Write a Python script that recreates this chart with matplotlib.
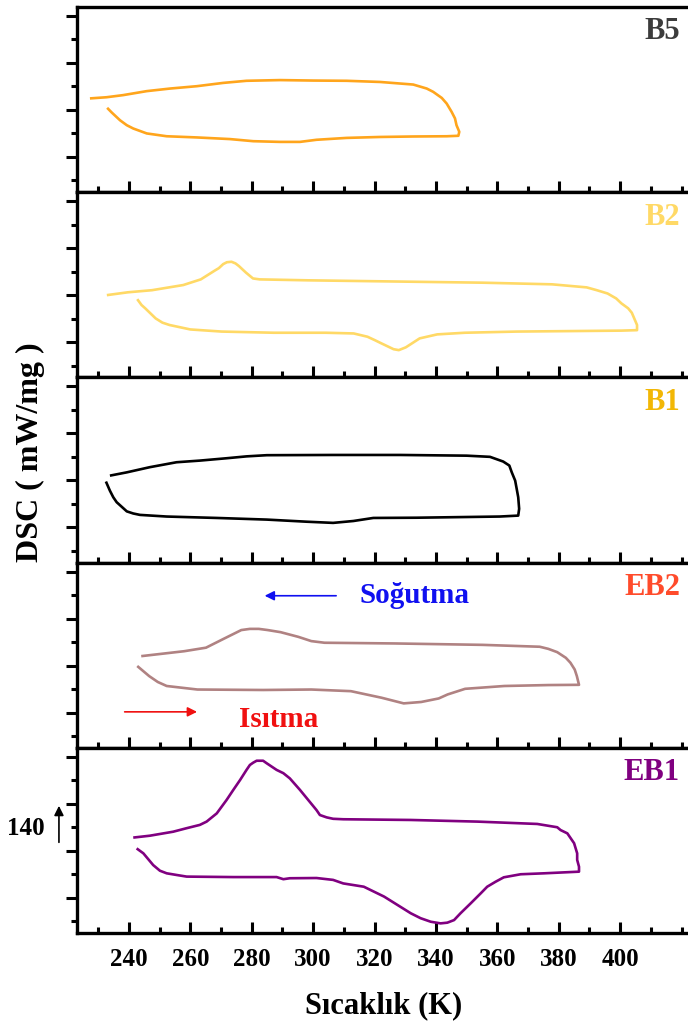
import matplotlib.pyplot as plt
from matplotlib.ticker import MultipleLocator

plt.rcParams['font.family'] = ['Liberation Serif', 'DejaVu Serif']
plt.rcParams['font.weight'] = 'bold'

# Panel names (top to bottom), curve colours and label colours
names = ["B5", "B2", "B1", "EB2", "EB1"]
line_colors = ["#FFA51C", "#FFD966", "#000000", "#B08282", "#800080"]
label_colors = ["#3C3C3C", "#FFD966", "#F2B705", "#FF4B2B", "#800080"]

# Heating branch (left -> right), then cooling branch (right -> left)
b5_heat_T = [232.9, 234.4, 237.1, 239.3, 241.4, 245.8, 252.3, 262.1, 272.9, 280.5, 289.2, 295.7, 301.1, 310.9, 321.8, 332.6, 343.5, 347.3]
b5_heat_v = [2.09, 1.89, 1.56, 1.35, 1.21, 1.00, 0.88, 0.83, 0.76, 0.67, 0.64, 0.64, 0.73, 0.81, 0.85, 0.87, 0.88, 0.90]
b5_cool_T = [347.6, 346.7, 346.2, 345.1, 343.5, 341.9, 339.1, 337.0, 332.6, 321.8, 310.9, 300.0, 289.2, 278.3, 270.7, 262.1, 253.4, 245.8, 238.1, 232.7, 227.3]
b5_cool_v = [1.07, 1.35, 1.64, 1.92, 2.27, 2.51, 2.77, 2.91, 3.08, 3.19, 3.24, 3.25, 3.27, 3.24, 3.15, 3.01, 2.91, 2.80, 2.63, 2.54, 2.49]

b2_heat_T = [242.7, 244.1, 245.3, 248.7, 250.9, 253.2, 260.0, 270.2, 287.2, 304.1, 313.2, 317.7, 320.0, 322.2, 326.2, 327.9, 330.2, 334.7, 340.4, 349.4, 366.4, 383.4, 400.4, 405.5]
b2_heat_v = [1.83, 1.58, 1.44, 1.01, 0.83, 0.73, 0.54, 0.45, 0.40, 0.40, 0.37, 0.23, 0.09, -0.05, -0.30, -0.34, -0.22, 0.16, 0.33, 0.40, 0.45, 0.47, 0.49, 0.51]
b2_cool_T = [405.5, 403.8, 402.6, 400.4, 398.7, 395.9, 392.4, 389.1, 377.8, 355.1, 321.1, 298.5, 282.6, 280.4, 278.1, 275.8, 274.7, 273.4, 271.9, 270.7, 269.3, 267.9, 263.4, 257.7, 247.5, 239.6, 232.8]
b2_cool_v = [0.73, 1.25, 1.44, 1.65, 1.86, 2.07, 2.21, 2.33, 2.46, 2.53, 2.59, 2.63, 2.67, 2.71, 2.96, 3.24, 3.35, 3.42, 3.40, 3.32, 3.15, 3.04, 2.67, 2.43, 2.21, 2.12, 2.00]

b1_heat_T = [232.5, 233.8, 234.9, 236.0, 239.3, 241.4, 243.6, 252.3, 268.6, 284.9, 297.9, 306.5, 313.1, 319.6, 333.7, 350.0, 360.8, 366.8]
b1_heat_v = [1.95, 1.56, 1.28, 1.07, 0.68, 0.59, 0.53, 0.46, 0.40, 0.33, 0.24, 0.19, 0.27, 0.40, 0.41, 0.44, 0.46, 0.50]
b1_cool_T = [367.1, 366.8, 366.3, 365.8, 364.7, 363.9, 361.9, 357.6, 350.0, 328.3, 306.5, 284.9, 278.3, 271.8, 263.1, 255.5, 246.8, 239.3, 233.8]
b1_cool_v = [0.79, 1.28, 1.64, 1.99, 2.34, 2.63, 2.80, 3.00, 3.05, 3.08, 3.08, 3.07, 3.02, 2.94, 2.84, 2.77, 2.56, 2.34, 2.20]

eb2_heat_T = [242.7, 246.6, 249.4, 252.3, 262.3, 283.7, 299.4, 312.3, 322.3, 329.5, 335.2, 340.9, 343.8, 349.5, 362.3, 376.6, 386.6]
eb2_heat_v = [1.98, 1.55, 1.30, 1.13, 0.98, 0.96, 0.98, 0.91, 0.63, 0.39, 0.45, 0.60, 0.77, 1.01, 1.13, 1.17, 1.18]
eb2_cool_T = [385.9, 385.2, 383.8, 382.3, 379.5, 376.6, 373.8, 355.2, 326.6, 303.7, 299.4, 295.2, 289.4, 285.2, 282.3, 279.4, 276.6, 270.9, 265.1, 258.0, 244.0]
eb2_cool_v = [1.55, 1.83, 2.12, 2.33, 2.57, 2.71, 2.80, 2.88, 2.94, 2.97, 3.04, 3.22, 3.42, 3.51, 3.56, 3.56, 3.51, 3.14, 2.76, 2.61, 2.40]

eb1_heat_T = [242.5, 244.7, 247.9, 250.1, 252.3, 255.5, 258.8, 274.0, 288.1, 290.3, 292.4, 301.1, 306.5, 309.8, 316.5, 323.1, 331.8, 335.0, 338.3, 341.5, 343.7, 345.9, 348.0, 351.3, 354.6, 356.7, 359.4, 362.1, 367.6, 375.2, 386.6]
eb1_heat_v = [2.10, 1.89, 1.39, 1.15, 1.04, 0.97, 0.90, 0.88, 0.88, 0.79, 0.83, 0.84, 0.76, 0.61, 0.47, 0.05, -0.66, -0.87, -1.02, -1.09, -1.06, -0.95, -0.66, -0.24, 0.19, 0.47, 0.68, 0.87, 1.00, 1.04, 1.11]
eb1_cool_T = [386.6, 386.0, 386.0, 385.0, 383.9, 382.8, 380.6, 379.5, 373.0, 353.5, 331.8, 309.8, 306.5, 304.4, 302.2, 301.1, 298.4, 295.7, 292.4, 290.3, 288.1, 284.9, 283.7, 281.6, 280.5, 279.4, 278.3, 276.2, 274.0, 271.8, 268.6, 265.3, 263.1, 258.8, 254.4, 246.8, 241.4]
eb1_cool_v = [1.32, 1.61, 1.89, 2.32, 2.53, 2.74, 2.88, 3.00, 3.14, 3.24, 3.31, 3.34, 3.36, 3.42, 3.52, 3.73, 4.16, 4.59, 5.08, 5.30, 5.44, 5.72, 5.83, 5.83, 5.75, 5.65, 5.44, 5.01, 4.59, 4.16, 3.59, 3.24, 3.10, 2.96, 2.81, 2.64, 2.56]

curves = [
    (b5_heat_T + b5_cool_T, b5_heat_v + b5_cool_v),
    (b2_heat_T + b2_cool_T, b2_heat_v + b2_cool_v),
    (b1_heat_T + b1_cool_T, b1_heat_v + b1_cool_v),
    (eb2_heat_T + eb2_cool_T, eb2_heat_v + eb2_cool_v),
    (eb1_heat_T + eb1_cool_T, eb1_heat_v + eb1_cool_v),
]

x_ticks = [240, 260, 280, 300, 320, 340, 360, 380, 400]

fig, axes = plt.subplots(5, 1, sharex=True, figsize=(6.88, 10.28), dpi=100)
fig.subplots_adjust(left=0.112, right=1.0, top=0.9932, bottom=0.0924, hspace=0)

for i, ax in enumerate(axes):
    T, v = curves[i]
    ax.plot(T, v, color=line_colors[i], lw=1.9, solid_joinstyle='round', solid_capstyle='butt')
    ax.set_xlim(223.1, 422.1)
    ax.set_ylim(-1.5, 6.38)
    ax.yaxis.set_major_locator(MultipleLocator(2))
    ax.yaxis.set_minor_locator(MultipleLocator(1))
    ax.set_xticks(x_ticks)
    ax.xaxis.set_minor_locator(MultipleLocator(10))
    ax.tick_params(axis='y', which='major', direction='out', length=8, width=2.2, labelleft=False)
    ax.tick_params(axis='y', which='minor', direction='out', length=4, width=2.2)
    ax.tick_params(axis='x', which='major', direction='in', length=8, width=2.2, labelsize=18, pad=11)
    ax.tick_params(axis='x', which='minor', direction='in', length=4, width=2.2)
    for side in ['left', 'top', 'bottom']:
        ax.spines[side].set_linewidth(2.4)
    ax.spines['right'].set_visible(False)
    ax.text(0.987, 0.865, names[i], transform=ax.transAxes, ha='right', va='center',
            fontsize=22, fontweight='bold', color=label_colors[i])
    if i < 4:
        ax.tick_params(axis='x', labelbottom=False)

# Cooling / heating annotations
ax4 = axes[3]
ax4.annotate("", xy=(283.3, 4.97), xytext=(308.4, 4.97),
             arrowprops=dict(arrowstyle='-|>', color='#1010F0', lw=1.2, mutation_scale=14))
ax4.text(315.2, 4.97, "Soğutma", color='#1010F0', fontsize=21, fontweight='bold', ha='left', va='center')
ax4.annotate("", xy=(263.1, 0.03), xytext=(237.7, 0.03),
             arrowprops=dict(arrowstyle='-|>', color='#F01010', lw=1.2, mutation_scale=14))
ax4.text(275.8, -0.31, "Isıtma", color='#F01010', fontsize=21, fontweight='bold', ha='left', va='center')

# Scale arrow on the bottom panel
ax5 = axes[4]
ax5.annotate("", xy=(217.2, 4.03), xytext=(217.2, 2.24),
             arrowprops=dict(arrowstyle='-|>', color='black', lw=1.2, mutation_scale=14),
             annotation_clip=False)
ax5.text(212.6, 2.93, "140", fontsize=18, fontweight='bold', ha='right', va='center', clip_on=False)

fig.text(0.557, 0.022, "Sıcaklık (K)", fontsize=22, fontweight='bold', ha='center', va='center')
fig.text(0.044, 0.560, "DSC ( mW/mg )", fontsize=23, fontweight='bold', ha='center', va='center',
         rotation=90)

fig.savefig("out.png", dpi=100)
